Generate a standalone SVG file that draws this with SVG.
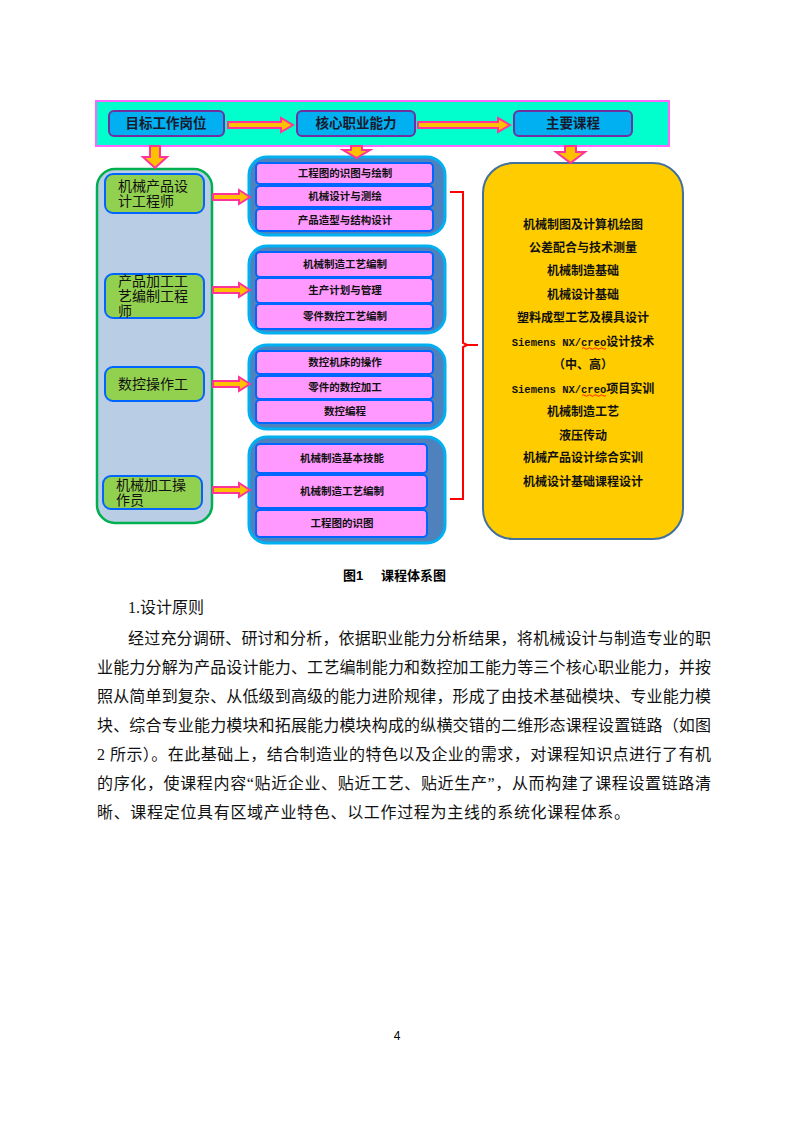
<svg xmlns="http://www.w3.org/2000/svg" xmlns:xlink="http://www.w3.org/1999/xlink" width="793" height="1122" viewBox="0 0 793 1122">
<style>
.banner{fill:#00FFCC;stroke:#FF66FF;stroke-width:2}
.top{fill:#00B0F0;stroke:#7030A0;stroke-width:2}
.toptxt{font-family:"Liberation Sans","Noto Sans CJK SC",sans-serif;font-weight:700;font-size:13.5px;fill:#1a1a2e;text-anchor:middle}
.panel{fill:#B9CDE5;stroke:#00B050;stroke-width:2.5}
.job{fill:#92D050;stroke:#0066FF;stroke-width:2}
.jobtxt{font-family:"Liberation Sans","Noto Sans CJK SC",sans-serif;font-size:14px;fill:#111}
.grp{fill:#4F81BD;stroke:#00B0F0;stroke-width:3}
.pink{fill:#FF99FF;stroke:#0066FF;stroke-width:2}
.ptxt{font-family:"Liberation Sans","Noto Sans CJK SC",sans-serif;font-weight:700;font-size:10.5px;fill:#111;text-anchor:middle}
.course{fill:#FFCC00;stroke:#41719C;stroke-width:2}
.ctxt{font-family:"Liberation Sans","Noto Sans CJK SC",sans-serif;font-weight:700;font-size:12px;fill:#111;text-anchor:middle}
.mono{font-family:"Liberation Mono",monospace;font-size:10.5px;font-weight:700}
.arr{fill:#FFC000;stroke:#FF3399;stroke-width:2;stroke-linejoin:miter}
.brace{fill:none;stroke:#FF0000;stroke-width:2}
.squig{fill:none;stroke:#FF0000;stroke-width:0.8}
.cap{font-family:"Liberation Sans","Noto Sans CJK SC",sans-serif;font-weight:700;font-size:13px;fill:#000}
.body{font-family:"Liberation Serif","Noto Sans CJK SC",serif;font-size:16px;fill:#111}
.pg{font-family:"Liberation Sans",sans-serif;font-size:12px;fill:#000;text-anchor:middle}
</style>
<defs>
<path id="arrR" d="M0,-3 H26 V-7 L37,0 L26,7 V3 H0 Z"/>
</defs>
<rect width="793" height="1122" fill="#FFFFFF"/>

<g id="banner"><rect class="banner" x="96" y="101" width="573" height="45"/></g>

<g id="top1"><rect class="top" x="109" y="111" width="115" height="25" rx="5"/><text class="toptxt" x="166" y="128">目标工作岗位</text></g>
<g id="top2"><rect class="top" x="297" y="111" width="118" height="25" rx="5"/><text class="toptxt" x="356" y="128">核心职业能力</text></g>
<g id="top3"><rect class="top" x="514" y="111" width="118" height="25" rx="5"/><text class="toptxt" x="573" y="128">主要课程</text></g>

<g id="jobs-panel"><rect class="panel" x="97" y="169" width="115" height="354" rx="18"/></g>
<g id="job1"><rect class="job" x="105" y="174" width="99" height="39" rx="8"/><text class="jobtxt" x="118" y="191">机械产品设</text><text class="jobtxt" x="118" y="206">计工程师</text></g>
<g id="job2"><rect class="job" x="105" y="274" width="99" height="44" rx="8"/><text class="jobtxt" x="118" y="286">产品加工工</text><text class="jobtxt" x="118" y="301">艺编制工程</text><text class="jobtxt" x="118" y="316">师</text></g>
<g id="job3"><rect class="job" x="105" y="367" width="99" height="34" rx="8"/><text class="jobtxt" x="118" y="389">数控操作工</text></g>
<g id="job4"><rect class="job" x="103" y="476" width="99" height="33" rx="8"/><text class="jobtxt" x="116" y="490">机械加工操</text><text class="jobtxt" x="116" y="505">作员</text></g>

<g id="group1"><rect class="grp" x="249" y="157" width="196" height="78" rx="18"/>
<rect class="pink" x="256" y="163" width="177" height="21" rx="4"/><text class="ptxt" x="345" y="177">工程图的识图与绘制</text>
<rect class="pink" x="256" y="186" width="177" height="21" rx="4"/><text class="ptxt" x="345" y="200">机械设计与测绘</text>
<rect class="pink" x="256" y="209" width="177" height="22" rx="4"/><text class="ptxt" x="345" y="224">产品造型与结构设计</text></g>

<g id="group2"><rect class="grp" x="249" y="246" width="196" height="87" rx="18"/>
<rect class="pink" x="256" y="252" width="177" height="25" rx="4"/><text class="ptxt" x="345" y="268">机械制造工艺编制</text>
<rect class="pink" x="256" y="278" width="177" height="25" rx="4"/><text class="ptxt" x="345" y="294">生产计划与管理</text>
<rect class="pink" x="256" y="304" width="177" height="25" rx="4"/><text class="ptxt" x="345" y="320">零件数控工艺编制</text></g>

<g id="group3"><rect class="grp" x="249" y="345" width="196" height="84" rx="18"/>
<rect class="pink" x="256" y="351" width="177" height="23" rx="4"/><text class="ptxt" x="345" y="366">数控机床的操作</text>
<rect class="pink" x="256" y="376" width="177" height="23" rx="4"/><text class="ptxt" x="345" y="391">零件的数控加工</text>
<rect class="pink" x="256" y="400" width="177" height="23" rx="4"/><text class="ptxt" x="345" y="415">数控编程</text></g>

<g id="group4"><rect class="grp" x="249" y="437" width="196" height="106" rx="18"/>
<rect class="pink" x="256" y="444" width="171" height="29" rx="4"/><text class="ptxt" x="342" y="462">机械制造基本技能</text>
<rect class="pink" x="256" y="475" width="171" height="33" rx="4"/><text class="ptxt" x="342" y="495">机械制造工艺编制</text>
<rect class="pink" x="256" y="510" width="171" height="27" rx="4"/><text class="ptxt" x="342" y="527">工程图的识图</text></g>

<g id="courses"><rect class="course" x="483" y="163" width="200" height="376" rx="30"/>
<text class="ctxt" x="583" y="229">机械制图及计算机绘图</text>
<text class="ctxt" x="583" y="252">公差配合与技术测量</text>
<text class="ctxt" x="583" y="275">机械制造基础</text>
<text class="ctxt" x="583" y="299">机械设计基础</text>
<text class="ctxt" x="583" y="322">塑料成型工艺及模具设计</text>
<text class="ctxt" x="583" y="346"><tspan class="mono">Siemens NX/creo</tspan>设计技术</text>
<text class="ctxt" x="583" y="369">（中、高）</text>
<text class="ctxt" x="583" y="393"><tspan class="mono">Siemens NX/creo</tspan>项目实训</text>
<text class="ctxt" x="583" y="416">机械制造工艺</text>
<text class="ctxt" x="583" y="440">液压传动</text>
<text class="ctxt" x="583" y="462">机械产品设计综合实训</text>
<text class="ctxt" x="583" y="486">机械设计基础课程设计</text>
<path class="squig" d="M582,348.5 q1.5,-1.5 3,0 t3,0 t3,0 t3,0 t3,0 t3,0 t3,0 t3,0"/>
<path class="squig" d="M582,395.5 q1.5,-1.5 3,0 t3,0 t3,0 t3,0 t3,0 t3,0 t3,0 t3,0"/>
</g>

<g id="connectors">
<path class="arr" d="M228,122 H281 V118 L293,125 L281,132 V128 H228 Z"/>
<path class="arr" d="M418,122 H498 V118 L510,125 L498,132 V128 H418 Z"/>
<path class="arr" d="M150,146 H160 V157 H167 L155,168 L143,157 H150 Z"/>
<path class="arr" d="M351,146 H362 V150 H370 L356.5,158 L343,150 H351 Z"/>
<path class="arr" d="M565,146 H576 V152 H585 L570.5,163 L556,152 H565 Z"/>
<use href="#arrR" class="arr" x="213" y="197"/>
<use href="#arrR" class="arr" x="213" y="290"/>
<use href="#arrR" class="arr" x="213" y="384"/>
<use href="#arrR" class="arr" x="213" y="490"/>
<path class="brace" d="M450,192 H463 V343 L467,345 H478 M467,345 L463,347 V499 H450"/>
</g>

<text class="cap" x="343" y="580">图1</text>
<text class="cap" x="381" y="580">课程体系图</text>

<text class="body" x="128" y="613">1.设计原则</text>
<text class="body" x="128" y="644" textLength="583" lengthAdjust="spacing">经过充分调研、研讨和分析，依据职业能力分析结果，将机械设计与制造专业的职</text>
<text class="body" x="97" y="673" textLength="614" lengthAdjust="spacing">业能力分解为产品设计能力、工艺编制能力和数控加工能力等三个核心职业能力，并按</text>
<text class="body" x="97" y="702" textLength="614" lengthAdjust="spacing">照从简单到复杂、从低级到高级的能力进阶规律，形成了由技术基础模块、专业能力模</text>
<text class="body" x="97" y="731" textLength="614" lengthAdjust="spacing">块、综合专业能力模块和拓展能力模块构成的纵横交错的二维形态课程设置链路（如图</text>
<text class="body" x="97" y="760" textLength="614" lengthAdjust="spacing">2 所示）。在此基础上，结合制造业的特色以及企业的需求，对课程知识点进行了有机</text>
<text class="body" x="97" y="789" textLength="614" lengthAdjust="spacing">的序化，使课程内容“贴近企业、贴近工艺、贴近生产”，从而构建了课程设置链路清</text>
<text class="body" x="97" y="818" textLength="533" lengthAdjust="spacing">晰、课程定位具有区域产业特色、以工作过程为主线的系统化课程体系。</text>

<text class="pg" x="397" y="1040">4</text>
</svg>
